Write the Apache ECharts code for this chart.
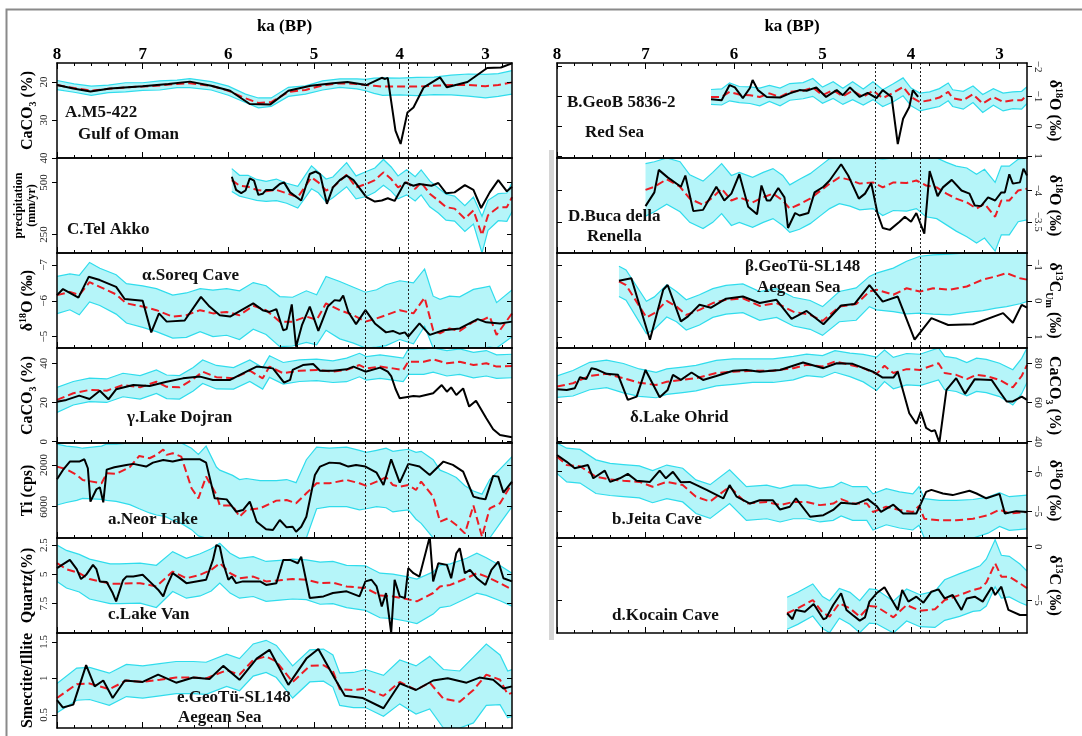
<!DOCTYPE html>
<html>
<head>
<meta charset="utf-8">
<script src="https://cdn.jsdelivr.net/npm/echarts@6/dist/echarts.min.js"></script>
<style>
  html, body { margin: 0; padding: 0; background: #fff; }
  #chart { width: 1082px; height: 736px; }
</style>
</head>
<body>
<div id="chart"></div>
<script>
// ---- time axis (ka BP) ----
const kaTicks = [8, 7, 6, 5, 4, 3];
const kaMinor = [7.8, 7.6, 7.4, 7.2, 6.8, 6.6, 6.4, 6.2, 5.8, 5.6, 5.4, 5.2, 4.8, 4.6, 4.4, 4.2, 3.8, 3.6, 3.4, 3.2, 2.8];
const eventLines = [4.4, 3.9];

// ---- proxy records: [ka, value] ----
const omanProxy = [[8.0,20.8],[7.81,21.7],[7.61,22.5],[7.38,21.7],[7.0,21.1],[6.7,20.5],[6.45,19.9],[6.2,21.0],[5.98,22.3],[5.75,25.8],[5.51,25.9],[5.30,22.3],[5.04,21.0],[4.78,20.3],[4.61,20.0],[4.39,20.8],[4.21,18.9],[4.17,19.2],[4.14,18.9],[4.05,32.8],[3.99,36.3],[3.91,28.0],[3.84,26.7],[3.72,21.4],[3.53,18.8],[3.45,21.4],[3.21,20.0],[2.98,16.3],[2.82,16.2],[2.69,15.1]];
const telAkkoProxy = [[5.96,527],[5.91,464],[5.85,448],[5.80,461],[5.75,519],[5.70,508],[5.65,440],[5.60,445],[5.56,464],[5.48,464],[5.40,492],[5.35,500],[5.28,452],[5.15,413],[5.05,540],[4.98,552],[4.93,540],[4.85,397],[4.78,476],[4.70,511],[4.62,532],[4.54,511],[4.39,429],[4.29,408],[4.21,413],[4.14,424],[4.06,411],[3.94,500],[3.84,484],[3.77,492],[3.63,484],[3.55,497],[3.46,448],[3.36,452],[3.24,487],[3.14,464],[3.05,377],[2.95,452],[2.85,511],[2.75,457],[2.69,479]];
const soreqProxy = [[8.0,-6.16],[7.93,-6.33],[7.75,-6.09],[7.63,-6.67],[7.50,-6.58],[7.31,-6.39],[7.21,-6.05],[7.0,-6.0],[6.90,-5.12],[6.81,-5.65],[6.72,-5.42],[6.51,-5.45],[6.32,-6.11],[6.22,-5.84],[6.10,-5.6],[5.98,-5.56],[5.71,-5.93],[5.60,-5.74],[5.52,-5.69],[5.44,-5.77],[5.36,-5.18],[5.32,-5.21],[5.26,-5.9],[5.21,-4.72],[5.14,-5.33],[5.05,-5.84],[4.95,-5.16],[4.84,-5.84],[4.76,-6.02],[4.70,-6.0],[4.66,-6.15],[4.60,-5.69],[4.51,-5.35],[4.40,-5.74],[4.29,-5.37],[4.16,-5.12],[4.08,-5.16],[4.0,-5.08],[3.94,-5.12],[3.90,-5.0],[3.77,-5.37],[3.65,-5.05],[3.49,-5.18],[3.30,-5.23],[3.09,-5.49],[2.99,-5.4],[2.83,-5.37],[2.69,-5.42]];
const dojranProxy = [[8.0,20.4],[7.89,21.3],[7.74,23.5],[7.62,21.8],[7.50,26],[7.40,21.6],[7.31,26.7],[7.11,28.9],[6.92,28.4],[6.72,30.6],[6.53,32.3],[6.33,33.2],[6.18,31.5],[5.98,31.5],[5.79,35.7],[5.67,38.3],[5.48,37.4],[5.35,30.1],[5.28,31.5],[5.25,36.6],[5.13,39.1],[5.01,39.6],[4.93,36.2],[4.78,36.2],[4.62,36.9],[4.54,38.3],[4.40,35.7],[4.23,37.8],[4.14,35.7],[4.10,33.5],[4.05,27],[4.0,22.1],[3.84,23.3],[3.77,23],[3.61,24.7],[3.51,28.9],[3.45,25.5],[3.40,27.7],[3.34,23.8],[3.26,27.2],[3.19,17.9],[3.11,20.9],[2.99,11.9],[2.91,6.3],[2.83,3.4],[2.69,2.2]];
const neorProxy = [[8.0,3380],[7.93,2480],[7.85,1680],[7.74,1680],[7.68,1460],[7.64,2320],[7.61,5520],[7.54,4330],[7.50,4140],[7.46,5580],[7.42,2450],[7.33,2220],[7.19,2000],[7.11,1900],[6.96,2160],[6.88,1780],[6.76,1520],[6.65,1680],[6.53,1460],[6.33,1460],[6.26,1780],[6.16,5200],[6.02,5300],[5.91,6480],[5.83,6320],[5.75,5520],[5.67,7440],[5.56,8170],[5.48,8230],[5.40,7280],[5.32,7980],[5.25,7920],[5.21,8400],[5.15,7920],[5.09,6960],[4.99,2960],[4.93,2160],[4.82,1780],[4.70,1840],[4.60,2160],[4.51,2000],[4.40,2160],[4.27,2740],[4.19,3920],[4.10,1460],[4.0,3700],[3.90,1900],[3.77,2160],[3.65,2960],[3.49,1680],[3.38,2000],[3.26,2640],[3.14,5040],[3.07,5200],[3.0,5300],[2.91,3050],[2.85,3120],[2.79,4650],[2.69,3600]];
const vanProxy = [[8.0,4.47],[7.85,3.77],[7.77,4.56],[7.72,5.4],[7.66,5.04],[7.58,4.19],[7.54,4.56],[7.50,5.6],[7.42,5.65],[7.35,6.59],[7.31,7.3],[7.23,5.5],[7.19,5.19],[7.11,5.19],[7.0,5.04],[6.92,5.6],[6.82,6.31],[6.76,6.88],[6.72,6.03],[6.65,4.9],[6.57,5.3],[6.49,5.75],[6.26,5.46],[6.18,3.77],[6.14,2.5],[6.10,2.64],[6.06,4.05],[6.0,5.46],[5.96,5.19],[5.91,5.75],[5.83,5.6],[5.63,5.6],[5.56,5.9],[5.44,5.75],[5.36,3.77],[5.28,3.77],[5.19,4.05],[5.15,3.49],[5.05,7.02],[4.89,6.88],[4.78,6.59],[4.62,6.45],[4.47,6.88],[4.40,5.6],[4.33,5.46],[4.27,6.03],[4.21,7.73],[4.16,6.59],[4.10,9.98],[4.06,5.46],[4.0,6.88],[3.94,7.02],[3.90,4.47],[3.84,4.9],[3.77,5.19],[3.65,1.8],[3.61,5.6],[3.55,4.05],[3.45,4.19],[3.40,5.33],[3.34,3.2],[3.30,2.78],[3.24,4.9],[3.18,4.62],[3.10,5.33],[3.0,5.9],[2.93,4.62],[2.85,3.91],[2.79,5.33],[2.69,5.6]];
const aegeanClayProxy = [[8.0,0.70],[7.93,0.6],[7.81,0.64],[7.66,1.18],[7.56,0.89],[7.46,0.97],[7.35,0.73],[7.21,0.97],[7.0,0.95],[6.82,1.05],[6.61,0.94],[6.41,1.01],[6.22,0.99],[6.06,1.17],[5.87,0.98],[5.67,1.27],[5.52,1.39],[5.30,0.91],[5.09,1.27],[4.95,1.40],[4.76,1.0],[4.64,0.76],[4.43,0.73],[4.19,0.59],[4.0,0.93],[3.81,0.84],[3.61,0.97],[3.44,1.0],[3.22,0.94],[3.07,1.01],[2.91,0.98],[2.79,0.86],[2.69,0.89]];
const redSeaProxy = [[6.26,-0.9],[6.14,-0.87],[6.05,-1.38],[5.99,-1.3],[5.90,-0.94],[5.82,-1.28],[5.79,-1.55],[5.73,-1.21],[5.63,-0.98],[5.48,-0.96],[5.37,-1.1],[5.26,-1.21],[5.18,-1.19],[5.07,-1.3],[4.96,-0.98],[4.84,-1.21],[4.77,-1.04],[4.69,-1.3],[4.58,-0.98],[4.49,-1.12],[4.39,-0.94],[4.32,-1.21],[4.22,-0.98],[4.15,0.6],[4.09,-0.25],[4.02,-0.64],[3.98,-1.21],[3.92,-0.98]];
const renellaProxy = [[7.0,-3.75],[6.90,-3.97],[6.85,-4.33],[6.75,-4.21],[6.60,-4.06],[6.55,-4.24],[6.46,-3.67],[6.35,-3.69],[6.20,-4.06],[6.11,-3.84],[6.03,-3.95],[5.94,-4.26],[5.84,-3.74],[5.74,-3.62],[5.69,-4.08],[5.63,-3.84],[5.59,-3.84],[5.50,-4.04],[5.43,-3.89],[5.39,-3.4],[5.31,-3.64],[5.26,-3.6],[5.16,-3.64],[5.09,-3.97],[4.99,-4.06],[4.92,-4.16],[4.79,-4.42],[4.71,-4.24],[4.59,-3.87],[4.52,-3.95],[4.45,-4.12],[4.38,-3.64],[4.32,-3.4],[4.24,-3.37],[4.13,-3.5],[4.07,-3.58],[4.0,-3.5],[3.94,-3.64],[3.85,-3.31],[3.79,-4.31],[3.70,-3.91],[3.64,-4.05],[3.54,-4.17],[3.43,-4.0],[3.34,-3.95],[3.28,-3.76],[3.21,-3.75],[3.13,-3.89],[3.05,-3.84],[2.98,-3.97],[2.94,-3.97],[2.89,-4.26],[2.85,-4.11],[2.77,-4.13],[2.73,-4.35],[2.69,-4.24]];
const aegeanCarbonProxy = [[7.30,-0.56],[7.16,-0.63],[6.95,1.08],[6.80,-0.31],[6.75,-0.44],[6.60,0.57],[6.52,0.43],[6.39,0.11],[6.26,0.19],[6.09,-0.06],[5.90,-0.12],[5.71,0.06],[5.52,-0.03],[5.35,0.5],[5.18,0.28],[4.99,0.65],[4.79,0.13],[4.64,0.09],[4.47,-0.44],[4.32,0.02],[4.15,-0.12],[3.96,1.08],[3.77,0.48],[3.58,0.67],[3.30,0.65],[2.96,0.34],[2.85,0.61],[2.75,0.11],[2.69,0.19]];
const ohridProxy = [[8.0,66.7],[7.89,66.4],[7.80,67.2],[7.74,72.9],[7.67,71.9],[7.61,77.5],[7.56,77],[7.44,74.6],[7.31,74.1],[7.20,61.3],[7.10,63],[7.0,76.6],[6.84,62.7],[6.75,66.4],[6.69,74.1],[6.60,71.5],[6.48,75.3],[6.35,71.5],[6.20,73.5],[6.01,76.2],[5.86,76.6],[5.71,75.7],[5.48,76.6],[5.22,80.4],[4.99,77.5],[4.84,80],[4.66,79.7],[4.43,75.7],[4.32,72.7],[4.20,72.7],[4.15,75.7],[4.02,54.5],[3.94,49.1],[3.89,55.3],[3.83,47],[3.77,45.3],[3.73,45.8],[3.68,39.5],[3.60,66.4],[3.49,72.4],[3.39,64.4],[3.28,71.9],[3.09,71.5],[3.0,65.6],[2.92,60.5],[2.85,60.5],[2.75,63],[2.69,61.3]];
const jeitaProxy = [[8.0,-6.4],[7.89,-6.23],[7.80,-6.07],[7.65,-6.15],[7.59,-5.82],[7.46,-6.01],[7.40,-5.73],[7.29,-5.82],[7.20,-5.93],[7.10,-5.76],[6.95,-5.73],[6.84,-6.01],[6.77,-5.82],[6.69,-5.98],[6.60,-5.72],[6.50,-5.73],[6.31,-5.53],[6.12,-5.32],[6.05,-5.65],[5.97,-5.36],[5.82,-5.19],[5.71,-5.27],[5.56,-5.27],[5.48,-5.04],[5.37,-5.11],[5.30,-5.32],[5.14,-4.86],[4.99,-4.9],[4.88,-5.03],[4.79,-5.21],[4.62,-5.18],[4.49,-5.3],[4.39,-5.13],[4.34,-4.98],[4.20,-5.16],[4.09,-4.94],[3.94,-4.94],[3.83,-5.48],[3.77,-5.53],[3.64,-5.44],[3.53,-5.4],[3.34,-5.51],[3.26,-5.44],[3.15,-5.32],[3.0,-5.43],[2.94,-4.94],[2.81,-5.0],[2.69,-4.98]];
const kocainProxy = [[5.40,-6.24],[5.34,-6.8],[5.30,-5.93],[5.20,-6.09],[5.10,-5.37],[4.99,-6.8],[4.96,-6.7],[4.88,-5.47],[4.79,-4.37],[4.73,-5.93],[4.66,-6.4],[4.58,-6.93],[4.52,-6.62],[4.47,-5.15],[4.39,-4.37],[4.30,-3.81],[4.15,-5.93],[4.10,-4.06],[4.03,-5.15],[3.94,-4.69],[3.86,-5.25],[3.77,-4.22],[3.69,-4.0],[3.62,-4.85],[3.53,-4.53],[3.43,-5.93],[3.37,-4.85],[3.28,-4.69],[3.19,-5.15],[3.09,-3.81],[3.05,-4.53],[2.98,-3.75],[2.90,-5.93],[2.77,-6.4],[2.69,-6.4]];

// ---- model ensembles: [ka, mean, halfSpread] or [ka, mean, low, high] ----
const omanModel = [[8.0,20.8,1.2],[7.8,21.6,1.1],[7.6,22.3,1.2],[7.4,21.8,1.0],[7.2,21.4,1.2],[7.0,21.2,1.0],[6.8,20.9,1.2],[6.6,20.5,1.0],[6.45,20.3,1.2],[6.2,21.0,1.1],[6.0,22.3,1.2],[5.8,24.3,1.1],[5.65,25.5,1.3],[5.5,25.3,1.1],[5.3,22.6,1.2],[5.1,22.1,1.1],[4.9,20.9,1.2],[4.7,20.3,1.1],[4.5,20.5,1.3],[4.4,20.8,1.5],[4.3,21.0,2.0],[4.2,21.2,2.3],[4.0,21.2,2.2],[3.8,21.2,2.4],[3.6,21.0,2.3],[3.4,20.8,2.6],[3.2,20.8,2.9],[3.0,21.1,3.1],[2.85,20.8,3.0],[2.69,20.1,3.1]];
const telAkkoModel = [[5.96,511,55],[5.87,484,50],[5.77,479,55],[5.67,464,50],[5.56,457,48],[5.44,464,52],[5.32,448,48],[5.19,429,52],[5.03,524,55],[4.95,500,50],[4.86,461,55],[4.78,476,50],[4.62,537,58],[4.51,476,55],[4.39,492,60],[4.29,511,58],[4.19,548,62],[4.10,516,58],[4.02,476,55],[3.92,500,60],[3.82,469,58],[3.75,500,60],[3.65,445,62],[3.55,413,60],[3.46,381,62],[3.36,374,60],[3.24,326,62],[3.14,365,65],[3.04,247,90],[2.97,342,72],[2.85,381,65],[2.75,381,68],[2.69,429,70]];
const soreqModel = [[8.0,-6.16,0.52],[7.85,-6.25,0.5],[7.74,-6.16,0.55],[7.62,-6.52,0.55],[7.5,-6.39,0.52],[7.31,-6.18,0.55],[7.19,-5.93,0.55],[7.0,-5.84,0.58],[6.84,-5.74,0.6],[6.65,-5.56,0.6],[6.49,-5.6,0.62],[6.33,-5.74,0.6],[6.18,-5.65,0.65],[6.02,-5.69,0.65],[5.87,-5.6,0.68],[5.71,-5.86,0.65],[5.56,-5.74,0.68],[5.40,-5.42,0.7],[5.25,-5.42,0.68],[5.09,-5.56,0.72],[4.97,-5.47,0.7],[4.86,-5.93,0.75],[4.70,-5.74,0.8],[4.54,-5.6,0.78],[4.40,-5.42,0.82],[4.27,-5.51,0.8],[4.16,-5.6,0.85],[4.0,-5.74,0.82],[3.84,-5.65,0.85],[3.71,-6.09,0.8],[3.61,-5.18,0.95],[3.53,-5.09,0.95],[3.42,-5.23,0.9],[3.30,-5.16,0.95],[3.14,-5.42,0.9],[3.03,-5.47,0.9],[2.95,-5.56,0.85],[2.87,-5.05,0.9],[2.69,-5.65,0.65]];
const dojranModel = [[8.0,21.3,6.4],[7.81,24.7,6],[7.62,26.4,6],[7.42,26,6],[7.23,28.9,6],[7.03,27.7,6],[6.84,30.6,6],[6.72,28,6],[6.57,27.7,6],[6.41,31.9,6],[6.30,35.7,6],[6.14,32.9,6],[5.94,32.3,5.5],[5.75,36.2,5.5],[5.60,32.3,5.5],[5.52,38.3,5.5],[5.36,34.9,5.5],[5.17,36.2,5.5],[4.97,36.6,5.5],[4.78,35.7,5.5],[4.62,36.6,6],[4.47,39.1,6],[4.39,37.4,6],[4.23,38.3,6],[4.08,37.4,6],[3.96,36.6,6],[3.90,40.8,6.5],[3.72,40.8,6.5],[3.61,42,6.5],[3.45,40,6.5],[3.30,40.8,6.5],[3.14,39.1,6.5],[2.99,40,6.5],[2.87,38.3,6],[2.69,38.6,6]];
const neorModel = [[8.0,2160,0,5840],[7.89,2410,200,5600],[7.77,2960,300,5400],[7.70,3440,400,5200],[7.48,3760,200,5300],[7.42,2800,0,5400],[7.31,2860,0,5500],[7.15,2220,-200,5800],[7.04,1140,-400,6200],[6.92,1360,-400,6600],[6.84,1040,-500,6800],[6.76,520,-600,6900],[6.72,1040,-500,7000],[6.65,880,-400,7300],[6.55,1200,-300,7600],[6.43,4240,400,8200],[6.35,5200,1000,8800],[6.26,3120,200,9500],[6.14,4840,2200,11000],[6.10,5890,2500,11000],[5.95,5890,3000,11000],[5.87,6960,3400,11000],[5.79,6320,3300,11000],[5.63,6160,3500,11000],[5.44,5420,3500,11000],[5.32,5360,3400,11000],[5.21,5680,3700,11000],[5.09,4720,1500,9000],[4.97,3760,300,6200],[4.82,3760,400,6000],[4.62,3440,300,6000],[4.47,3760,600,6300],[4.39,4010,800,6200],[4.27,3600,600,6000],[4.16,3180,400,6100],[4.08,3920,700,6500],[4.0,4080,600,6400],[3.90,3920,500,6300],[3.81,4400,800,7200],[3.75,3600,700,7600],[3.61,5040,1500,9500],[3.53,7440,2500,11000],[3.44,7120,2800,11000],[3.34,7760,3200,11000],[3.24,8560,4000,11500],[3.14,5890,4500,11000],[3.04,8880,4800,12000],[2.95,6160,3400,9800],[2.83,5680,2400,7600],[2.69,3760,1200,6000]];
const vanModel = [[8.0,4.05,1.55],[7.89,4.56,1.6],[7.74,4.9,1.6],[7.62,5.4,1.7],[7.38,5.8,1.7],[7.27,5.8,1.7],[7.03,5.75,1.7],[6.84,6.03,1.8],[6.65,4.76,1.7],[6.49,5.33,1.7],[6.33,5.04,1.8],[6.20,4.62,1.8],[6.10,4.05,1.7],[5.98,4.9,1.7],[5.87,5.33,1.7],[5.71,5.19,1.7],[5.56,5.6,1.7],[5.40,5.5,1.7],[5.25,5.4,1.7],[5.09,5.46,1.7],[4.93,5.75,1.8],[4.78,5.7,1.8],[4.62,6.03,1.8],[4.40,6.17,1.9],[4.23,6.8,1.9],[4.08,6.88,1.9],[3.92,7.1,1.9],[3.80,7.3,1.9],[3.61,6.59,1.8],[3.53,6.03,1.8],[3.41,5.9,1.8],[3.22,5.33,1.7],[3.10,4.9,1.7],[2.99,5.19,1.6],[2.83,5.75,1.5],[2.69,6.31,1.4]];
const aegeanClayModel = [[8.0,0.73,0.2],[7.77,0.92,0.22],[7.62,0.93,0.22],[7.39,0.85,0.22],[7.19,0.97,0.22],[7.0,0.95,0.22],[6.80,0.98,0.22],[6.61,1.01,0.22],[6.41,1.01,0.22],[6.26,1.0,0.22],[6.02,1.11,0.22],[5.87,1.05,0.22],[5.71,1.25,0.22],[5.56,1.3,0.22],[5.44,1.23,0.22],[5.25,0.95,0.22],[5.05,1.17,0.22],[4.89,1.18,0.22],[4.78,1.1,0.22],[4.70,0.85,0.22],[4.54,0.84,0.24],[4.40,0.86,0.26],[4.19,0.76,0.28],[4.0,0.95,0.3],[3.81,0.84,0.33],[3.65,0.94,0.36],[3.49,0.72,0.4],[3.30,0.68,0.42],[3.14,0.84,0.45],[2.99,1.05,0.42],[2.83,0.98,0.34],[2.74,0.78,0.32],[2.69,0.8,0.32]];
const redSeaModel = [[6.26,-0.98,0.25],[6.14,-0.98,0.27],[6.05,-1.15,0.3],[5.94,-1.06,0.27],[5.82,-1.04,0.28],[5.71,-0.98,0.3],[5.60,-1.1,0.27],[5.48,-0.98,0.3],[5.37,-1.15,0.28],[5.22,-1.19,0.27],[5.11,-1.3,0.3],[5.0,-1.04,0.27],[4.88,-1.21,0.28],[4.77,-1.0,0.27],[4.66,-1.19,0.3],[4.54,-0.98,0.27],[4.43,-1.19,0.3],[4.32,-0.94,0.28],[4.20,-1.12,0.3],[4.09,-1.32,0.3],[4.0,-0.98,0.3],[3.90,-0.81,0.3],[3.79,-0.87,0.28],[3.68,-0.96,0.3],[3.58,-1.15,0.3],[3.53,-0.94,0.28],[3.41,-0.87,0.3],[3.30,-1.07,0.28],[3.19,-0.76,0.3],[3.07,-0.98,0.28],[2.96,-0.81,0.3],[2.85,-0.87,0.28],[2.75,-0.87,0.3],[2.69,-1.04,0.28]];
const renellaModel = [[7.0,-4.01,0.42],[6.90,-4.06,0.4],[6.76,-4.18,0.4],[6.61,-4.06,0.4],[6.50,-3.87,0.38],[6.35,-3.77,0.38],[6.24,-3.89,0.4],[6.14,-4.03,0.4],[6.03,-3.84,0.4],[5.94,-3.89,0.4],[5.79,-3.81,0.4],[5.67,-3.89,0.4],[5.56,-3.95,0.4],[5.45,-3.84,0.4],[5.37,-3.71,0.38],[5.26,-3.78,0.4],[5.14,-3.87,0.4],[5.03,-3.99,0.4],[4.92,-4.11,0.4],[4.81,-4.21,0.42],[4.69,-4.17,0.42],[4.58,-4.11,0.42],[4.43,-4.13,0.42],[4.32,-4.05,0.45],[4.20,-4.13,0.45],[4.05,-4.12,0.45],[3.94,-4.16,0.45],[3.83,-4.08,0.5],[3.71,-4.05,0.5],[3.60,-3.95,0.5],[3.49,-3.87,0.52],[3.37,-3.81,0.55],[3.26,-3.71,0.55],[3.17,-3.79,0.55],[3.05,-3.58,0.55],[2.98,-3.84,0.55],[2.89,-3.84,0.55],[2.79,-4.0,0.5],[2.69,-4.03,0.5]];
const aegeanCarbonModel = [[7.30,-0.54,0.42],[7.22,-0.44,0.42],[6.99,0.46,0.45],[6.90,0.34,0.45],[6.76,0.0,0.45],[6.65,0.16,0.42],[6.54,0.39,0.42],[6.39,0.25,0.42],[6.24,0.06,0.4],[6.09,-0.03,0.4],[5.90,-0.07,0.4],[5.71,0.14,0.4],[5.52,0.06,0.4],[5.33,0.3,0.4],[5.14,0.39,0.4],[5.0,0.56,0.4],[4.81,0.16,0.42],[4.62,0.09,0.45],[4.47,-0.26,-0.68,0.16],[4.39,-0.31,-0.77,0.25],[4.20,-0.17,-0.91,0.3],[4.05,-0.35,-1.1,0.36],[3.90,-0.26,-1.24,0.34],[3.75,-0.35,-1.28,0.37],[3.56,-0.31,-1.3,0.39],[3.37,-0.4,-1.35,0.32],[3.19,-0.59,-1.38,0.27],[3.04,-0.68,-1.4,0.2],[2.92,-0.77,-1.42,0.16],[2.77,-0.63,-1.36,0.08],[2.69,-0.59,-1.32,0.02]];
const ohridModel = [[8.0,68.1,5.5],[7.82,69.8,6.5],[7.63,73.5,7],[7.44,74.6,7],[7.25,72.4,7.5],[7.07,70.1,7],[6.88,68.9,6.5],[6.76,70.6,6.5],[6.58,71.5,6.5],[6.43,72.4,6.5],[6.20,75,6.5],[6.01,75.7,6.5],[5.79,76.2,6],[5.56,76.2,6],[5.33,77.5,6],[5.18,79.2,5.5],[5.0,78.4,5.5],[4.86,80.9,5.5],[4.69,79.2,6],[4.54,77.5,7],[4.39,74.6,8.5],[4.30,78.7,8],[4.20,75,8],[4.05,77,8],[3.90,76.6,8],[3.69,80,8.5],[3.62,75,8.5],[3.49,74.1,8.5],[3.37,71.9,8.5],[3.26,74.1,8.5],[3.15,73.5,8.5],[3.0,71.5,8.5],[2.85,67.7,9],[2.75,73.5,9],[2.69,79.2,9]];
const jeitaModel = [[8.0,-6.36,0.42],[7.89,-6.15,0.42],[7.74,-6.12,0.42],[7.56,-5.86,0.42],[7.40,-5.79,0.4],[7.25,-5.76,0.4],[7.07,-5.73,0.4],[6.92,-5.61,0.4],[6.76,-5.73,0.42],[6.58,-5.65,0.42],[6.43,-5.36,0.42],[6.27,-5.24,0.42],[6.05,-5.61,0.42],[5.86,-5.19,0.42],[5.63,-5.23,0.42],[5.48,-5.15,0.42],[5.33,-5.23,0.42],[5.18,-5.23,0.42],[5.03,-5.15,0.42],[4.88,-5.19,0.42],[4.79,-5.3,0.42],[4.66,-5.19,0.42],[4.50,-5.19,0.42],[4.43,-4.98,0.45],[4.28,-5.11,0.45],[4.13,-5.03,0.45],[3.98,-4.98,0.45],[3.91,-5.13,0.48],[3.85,-4.81,0.5],[3.68,-4.77,0.5],[3.49,-4.77,0.5],[3.30,-4.81,0.48],[3.13,-4.9,0.45],[3.0,-5.04,0.42],[2.89,-4.94,0.42],[2.69,-4.98,0.42]];
const kocainModel = [[5.40,-6.24,1.5],[5.28,-5.78,1.5],[5.11,-5.0,1.5],[5.0,-6.18,1.5],[4.92,-6.56,1.5],[4.81,-5.31,1.4],[4.69,-5.78,1.5],[4.58,-6.56,1.5],[4.47,-5.56,1.6],[4.39,-5.62,1.6],[4.20,-6.62,1.5],[4.05,-5.47,1.5],[3.90,-6.0,1.5],[3.73,-5.87,1.7],[3.62,-5.0,1.9],[3.45,-4.53,2.0],[3.30,-4.06,2.0],[3.22,-3.9,2.1],[3.15,-3.37,2.2],[3.05,-1.56,2.2],[2.98,-2.81,2.0],[2.89,-2.81,1.9],[2.77,-3.43,1.8],[2.69,-3.9,1.6]];

// ---- y-axis tick labels per record ----
const omanTicks = [20, 30, 40];
const redSeaTicks = [-2, -1, 0, 1];
const telAkkoTicks = [500, 250];
const renellaTicks = [-4, -3.5];
const soreqTicks = [-7, -6, -5];
const aegeanCarbonTicks = [-1, 0, 1];
const dojranTicks = [0, 20, 40];
const ohridTicks = [40, 60, 80];
const neorTicks = [2000, 6000];
const jeitaTicks = [-6, -5];
const vanTicks = [2.5, 5, 7.5];
const kocainTicks = [0, -5];
const aegeanClayTicks = [0.5, 1, 1.5];

// ---- layout & styling ----
const FONT = 'Liberation Serif';
const KA_MIN = 2.69, KA_MAX = 8;
const COLS = [{ x: 57, w: 455 }, { x: 557, w: 470 }];
const ROW_TOP = [63, 158, 253, 348, 443, 538, 633];
const ROW_H = 95;
const BAND_FILL = '#b5f5f9';
const BAND_EDGE = '#30dcec';
const MODEL_RED = '#ec1c24';

const panels = [
  { col: 0, row: 0, proxy: omanProxy, model: omanModel, min: 15, max: 40, inverse: true, ticks: omanTicks,
    name: 'CaCO{sb|3} (%)', titles: [['A.M5-422', 65, 104], ['Gulf of Oman', 78, 126]] },
  { col: 1, row: 0, proxy: redSeaProxy, model: redSeaModel, min: -2.12, max: 1.07, inverse: true, ticks: redSeaTicks,
    name: 'δ{sp|18}O (‰)', titles: [['B.GeoB 5836-2', 567, 94], ['Red Sea', 585, 124]] },
  { col: 0, row: 1, proxy: telAkkoProxy, model: telAkkoModel, min: 161, max: 617, inverse: false, ticks: telAkkoTicks,
    name: 'precipitation\n(mm/yr)', small: true, titles: [['C.Tel Akko', 67, 221]] },
  { col: 1, row: 1, proxy: renellaProxy, model: renellaModel, min: -4.52, max: -3.0, inverse: true, ticks: renellaTicks,
    name: 'δ{sp|18}O (‰)', titles: [['D.Buca della', 568, 208], ['Renella', 587, 228]] },
  { col: 0, row: 2, proxy: soreqProxy, model: soreqModel, min: -7.335, max: -4.684, inverse: true, ticks: soreqTicks,
    name: 'δ{sp|18}O (‰)', titles: [['α.Soreq Cave', 142, 267]] },
  { col: 1, row: 2, proxy: aegeanCarbonProxy, model: aegeanCarbonModel, min: -1.33, max: 1.31, inverse: true, ticks: aegeanCarbonTicks,
    name: 'δ{sp|13}C{sb|Um} (‰)', titles: [['β.GeoTü-SL148', 745, 258], ['Aegean Sea', 757, 279]] },
  { col: 0, row: 3, proxy: dojranProxy, model: dojranModel, min: -0.7, max: 47.8, inverse: false, ticks: dojranTicks,
    name: 'CaCO{sb|3} (%)', titles: [['γ.Lake Dojran', 127, 409]] },
  { col: 1, row: 3, proxy: ohridProxy, model: ohridModel, min: 39.3, max: 87.8, inverse: false, ticks: ohridTicks,
    name: 'CaCO{sb|3} (%)', titles: [['δ.Lake Ohrid', 630, 409]] },
  { col: 0, row: 4, proxy: neorProxy, model: neorModel, min: -100, max: 9000, inverse: true, ticks: neorTicks,
    name: 'Ti (cps)', titles: [['a.Neor Lake', 108, 511]] },
  { col: 1, row: 4, proxy: jeitaProxy, model: jeitaModel, min: -6.7, max: -4.33, inverse: true, ticks: jeitaTicks,
    name: 'δ{sp|18}O (‰)', titles: [['b.Jeita Cave', 612, 511]] },
  { col: 0, row: 5, proxy: vanProxy, model: vanModel, min: 1.9, max: 10, inverse: true, ticks: vanTicks,
    name: 'Quartz(%)', titles: [['c.Lake Van', 108, 606]] },
  { col: 1, row: 5, proxy: kocainProxy, model: kocainModel, min: -8.09, max: 0.81, inverse: false, ticks: kocainTicks,
    name: 'δ{sp|13}C (‰)', titles: [['d.Kocain Cave', 612, 607]] },
  { col: 0, row: 6, proxy: aegeanClayProxy, model: aegeanClayModel, min: 0.32, max: 1.62, inverse: false, ticks: aegeanClayTicks,
    name: 'Smectite/Illite', titles: [['e.GeoTü-SL148', 177, 689], ['Aegean Sea', 178, 709]] }
];

const minus = v => (v < 0 ? '\u2212' + Math.abs(v) : String(v));
const frameLine = { show: true, onZero: false, lineStyle: { color: '#000', width: 1.5 } };
const noLine = { show: false, onZero: false };
const tickStyle = { color: '#000', width: 1 };

// envelope of the model ensemble drawn as one filled polygon with cyan edges
function bandRenderer(rows) {
  return function (params, api) {
    const upper = [], lower = [];
    rows.forEach(r => {
      const lo = r.length > 3 ? r[2] : r[1] - r[2];
      const hi = r.length > 3 ? r[3] : r[1] + r[2];
      upper.push(api.coord([r[0], hi]));
      lower.push(api.coord([r[0], lo]));
    });
    const cs = params.coordSys;
    const rect = { x: cs.x, y: cs.y, width: cs.width, height: cs.height };
    const clip = pts => echarts.graphic.clipPointsByRect(pts, rect);
    const poly = upper.concat(lower.slice().reverse());
    return {
      type: 'group',
      children: [
        { type: 'polygon', shape: { points: clip(poly) }, style: { fill: BAND_FILL, stroke: null } },
        { type: 'polyline', shape: { points: clip(upper) }, style: { stroke: BAND_EDGE, lineWidth: 1.2, fill: null } },
        { type: 'polyline', shape: { points: clip(lower) }, style: { stroke: BAND_EDGE, lineWidth: 1.2, fill: null } }
      ]
    };
  };
}

const grids = [], xAxes = [], yAxes = [], series = [], graphics = [];

panels.forEach((p, i) => {
  const C = COLS[p.col];
  grids.push({ left: C.x, top: ROW_TOP[p.row], width: C.w, height: ROW_H, containLabel: false });

  const xBase = { gridIndex: i, type: 'value', min: KA_MIN, max: KA_MAX, inverse: true, splitLine: { show: false }, z: 10 };
  const xi = xAxes.length;
  xAxes.push(Object.assign({}, xBase, { position: 'bottom', axisLine: frameLine,
    axisTick: { show: true, inside: true, length: 3, customValues: kaMinor, lineStyle: tickStyle }, axisLabel: { show: false } }));
  xAxes.push(Object.assign({}, xBase, { position: 'bottom', axisLine: noLine,
    axisTick: { show: true, inside: true, length: 6, customValues: kaTicks, lineStyle: tickStyle }, axisLabel: { show: false } }));
  const top = p.row === 0;
  xAxes.push(Object.assign({}, xBase, { position: 'top', axisLine: frameLine,
    axisTick: { show: top, inside: true, length: 3, customValues: kaMinor, lineStyle: tickStyle }, axisLabel: { show: false } }));
  if (top) {
    xAxes.push(Object.assign({}, xBase, { position: 'top', axisLine: noLine,
      axisTick: { show: true, inside: true, length: 6, customValues: kaTicks, lineStyle: tickStyle },
      axisLabel: { show: true, customValues: kaTicks, margin: 0, fontFamily: FONT, fontWeight: 'bold', fontSize: 17, color: '#000' },
      name: 'ka (BP)', nameLocation: 'middle', nameGap: 28,
      nameTextStyle: { fontFamily: FONT, fontWeight: 'bold', fontSize: 17, color: '#000' } }));
  }

  const left = p.col === 0;
  const yBase = { gridIndex: i, type: 'value', min: p.min, max: p.max, inverse: p.inverse, splitLine: { show: false }, z: 10 };
  const yi = yAxes.length;
  const nameStyle = p.small
    ? { fontFamily: FONT, fontWeight: 'bold', fontSize: 12, lineHeight: 13, color: '#000' }
    : { fontFamily: FONT, fontWeight: 'bold', fontSize: 16, lineHeight: 20, color: '#000',
        rich: {
          sp: { fontFamily: FONT, fontWeight: 'bold', fontSize: 10, lineHeight: 10, verticalAlign: 'top', color: '#000' },
          sb: { fontFamily: FONT, fontWeight: 'bold', fontSize: 10, lineHeight: 10, verticalAlign: 'bottom', color: '#000' }
        } };
  yAxes.push(Object.assign({}, yBase, { position: left ? 'left' : 'right', axisLine: frameLine,
    axisTick: { show: true, inside: false, length: 5, customValues: p.ticks, lineStyle: tickStyle },
    axisLabel: { show: true, customValues: p.ticks, rotate: left ? 90 : -90, margin: left ? 7 : 5, formatter: minus,
      fontFamily: FONT, fontSize: 11, color: '#222' },
    name: p.name, nameLocation: 'middle', nameGap: p.small ? 17 : (left ? 14 : 15), nameRotate: left ? 90 : -90, nameTextStyle: nameStyle }));
  yAxes.push(Object.assign({}, yBase, { position: left ? 'right' : 'left', axisLine: frameLine,
    axisTick: { show: true, inside: true, length: 5, customValues: p.ticks, lineStyle: tickStyle }, axisLabel: { show: false } }));

  series.push({ type: 'custom', xAxisIndex: xi, yAxisIndex: yi, data: [0], clip: true, silent: true, z: 1,
    renderItem: bandRenderer(p.model) });
  series.push({ type: 'line', xAxisIndex: xi, yAxisIndex: yi, data: p.model.map(r => [r[0], r[1]]), symbol: 'none',
    silent: true, clip: true, z: 3, lineStyle: { color: MODEL_RED, width: 2, type: [8, 4] },
    markLine: { silent: true, symbol: 'none', label: { show: false }, animation: false,
      lineStyle: { color: '#222', width: 1, type: [2, 2] }, data: eventLines.map(v => ({ xAxis: v })) } });
  series.push({ type: 'line', xAxisIndex: xi, yAxisIndex: yi, data: p.proxy, symbol: 'none', silent: true, clip: true, z: 4,
    lineStyle: { color: '#000', width: 2 } });

  p.titles.forEach(t => graphics.push({ type: 'text', left: t[1], top: t[2], z: 20, silent: true,
    style: { text: t[0], font: 'bold 17px "' + FONT + '"', fill: '#111' } }));
});

// outer figure frame and the divider strip between the two columns
graphics.push({ type: 'rect', left: 4, top: 7, z: 0, silent: true,
  shape: { width: 1100, height: 760 }, style: { fill: null, stroke: '#8a8a8a', lineWidth: 2 } });
graphics.push({ type: 'rect', left: 549, top: 150, z: 0, silent: true,
  shape: { width: 5, height: 490 }, style: { fill: '#d6d6d6', stroke: null } });

const chart = echarts.init(document.getElementById('chart'), null, { renderer: 'canvas' });
chart.setOption({
  backgroundColor: '#fff',
  animation: false,
  grid: grids,
  xAxis: xAxes,
  yAxis: yAxes,
  series: series,
  graphic: graphics
});
</script>
</body>
</html>
